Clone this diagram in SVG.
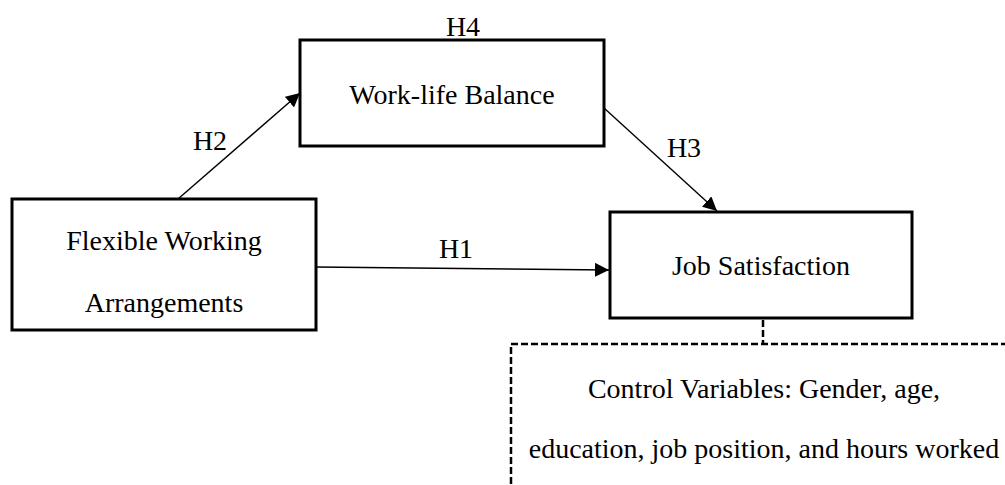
<svg xmlns="http://www.w3.org/2000/svg" width="1005" height="485" viewBox="0 0 1005 485">
<style>
.box{fill:#fff;stroke:#000;stroke-width:3}
.dash{fill:none;stroke:#000;stroke-width:2.5;stroke-dasharray:7 3}
.t{font-family:"Liberation Serif","Times New Roman",serif;font-size:28px;fill:#000;text-anchor:middle}
.c{stroke:#000;stroke-width:1.4;fill:none}
</style>
<defs>
<marker id="ah" viewBox="0 0 10 10" refX="10" refY="5" markerWidth="14" markerHeight="14" markerUnits="userSpaceOnUse" orient="auto">
<path d="M0,0 L10,5 L0,10 z" fill="#000"/>
</marker>
</defs>
<rect width="1005" height="485" fill="#fff"/>
<g id="connectors">
<line class="c" x1="178" y1="199" x2="300" y2="93" marker-end="url(#ah)"/>
<line class="c" x1="604" y1="108" x2="717" y2="211" marker-end="url(#ah)"/>
<line class="c" x1="316" y1="267" x2="609" y2="270" marker-end="url(#ah)"/>
<line class="dash" x1="763" y1="320" x2="763" y2="344"/>
<text class="t" x="463" y="36">H4</text>
<text class="t" x="210" y="150">H2</text>
<text class="t" x="684" y="157">H3</text>
<text class="t" x="456" y="258">H1</text>
</g>
<g id="wlb">
<rect class="box" x="300" y="40" width="304" height="106"/>
<text class="t" x="452" y="104">Work-life Balance</text>
</g>
<g id="fwa">
<rect class="box" x="12" y="199" width="304" height="131"/>
<text class="t" x="164" y="250">Flexible Working</text>
<text class="t" x="164" y="312">Arrangements</text>
</g>
<g id="js">
<rect class="box" x="610" y="212" width="302" height="106"/>
<text class="t" x="761" y="275">Job Satisfaction</text>
</g>
<g id="cv">
<rect class="dash" x="511" y="344" width="520" height="160"/>
<text class="t" x="764" y="398">Control Variables: Gender, age,</text>
<text class="t" x="764" y="458">education, job position, and hours worked</text>
</g>
</svg>
